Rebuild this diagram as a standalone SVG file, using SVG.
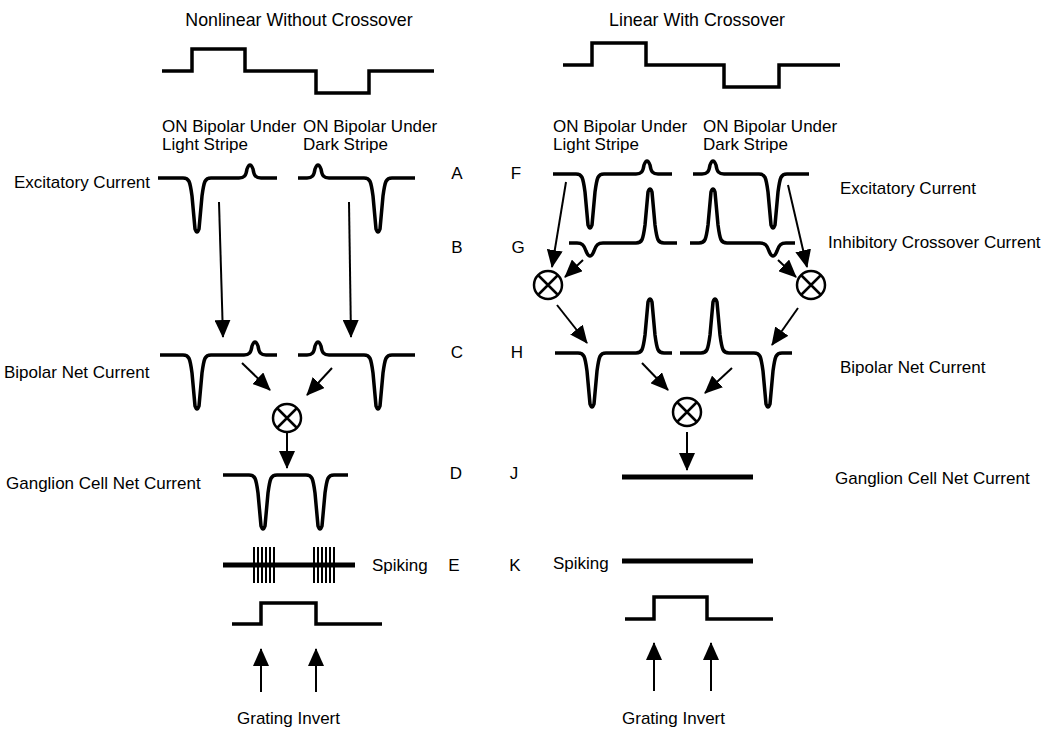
<svg xmlns="http://www.w3.org/2000/svg" width="1050" height="733" viewBox="0 0 1050 733">
<style>
text{font-family:"Liberation Sans",Arial,sans-serif;font-size:17px;fill:#000}
.t{font-size:17.8px}
.w{fill:none;stroke:#000;stroke-width:3.5;stroke-linejoin:round;stroke-linecap:butt}
.st{fill:none;stroke:#000;stroke-width:3.5;stroke-linejoin:miter}
.thick{fill:none;stroke:#000;stroke-width:5}
.a{fill:none;stroke:#000;stroke-width:2;marker-end:url(#ah)}
.c{fill:#fff;stroke:#000;stroke-width:2.5}
.x{stroke:#000;stroke-width:2.5}
.sp{stroke:#000;stroke-width:2}
.m{text-anchor:middle}
</style>
<defs>
<marker id="ah" markerUnits="userSpaceOnUse" viewBox="0 0 18 16" markerWidth="18" markerHeight="16" refX="17" refY="8" orient="auto">
<path d="M0,0 L18,8 L0,16 Z" fill="#000"/>
</marker>
</defs>
<rect width="1050" height="733" fill="#fff"/>

<g id="titles">
<text class="m t" x="299" y="26">Nonlinear Without Crossover</text>
<text class="m t" x="697" y="26">Linear With Crossover</text>
</g>

<g id="stimuli">
<path class="st" d="M162 71 H192 V49 H245 V71 H316 V93 H369 V71 H434"/>
<path class="st" d="M563 65 H592 V43 H646 V65 H724 V87 H779 V65 H840"/>
<path class="st" d="M232 624 H261 V603 H316 V624 H382"/>
<path class="st" d="M625 619 H654 V597 H707 V619 H773"/>
</g>

<g id="labels-left">
<text x="162" y="132">ON Bipolar Under</text>
<text x="162" y="150">Light Stripe</text>
<text x="303" y="132">ON Bipolar Under</text>
<text x="303" y="150">Dark Stripe</text>
<text x="14" y="188">Excitatory Current</text>
<text x="4" y="378">Bipolar Net Current</text>
<text x="6" y="489">Ganglion Cell Net Current</text>
<text x="372" y="571">Spiking</text>
<text x="237" y="724">Grating Invert</text>
</g>

<g id="letters">
<text class="m" x="457" y="179">A</text>
<text class="m" x="457" y="253">B</text>
<text class="m" x="457" y="358">C</text>
<text class="m" x="456" y="479">D</text>
<text class="m" x="454" y="571">E</text>
<text class="m" x="516" y="179">F</text>
<text class="m" x="518" y="253">G</text>
<text class="m" x="517" y="358">H</text>
<text class="m" x="514" y="479">J</text>
<text class="m" x="515" y="571">K</text>
</g>

<g id="labels-right">
<text x="553" y="132">ON Bipolar Under</text>
<text x="553" y="150">Light Stripe</text>
<text x="703" y="132">ON Bipolar Under</text>
<text x="703" y="150">Dark Stripe</text>
<text x="840" y="194">Excitatory Current</text>
<text x="828" y="248">Inhibitory Crossover Current</text>
<text x="840" y="373">Bipolar Net Current</text>
<text x="835" y="484">Ganglion Cell Net Current</text>
<text x="553" y="569">Spiking</text>
<text x="622" y="724">Grating Invert</text>
</g>

<g id="traces-left">
<path class="w" d="M158 178 H183 c6 0,7 3,9 18 l3 33 q2 6,4 0 l3 -33 c2 -15,3 -18,9 -18 H239 c5 0,7 -2,8 -9 q3 -8,6 0 c1 7,3 9,8 9 H277"/>
<path class="w" d="M298 178 H307 c5 0,7 -2,8 -9 q3 -8,6 0 c1 7,3 9,8 9 H364 c6 0,7 3,9 18 l3 33 q2 6,4 0 l3 -33 c2 -15,3 -18,9 -18 H415"/>
<path class="w" d="M160 355 H183 c6 0,7 3,9 18 l3 33 q2 6,4 0 l3 -33 c2 -15,3 -18,9 -18 H244 c5 0,7 -2,8 -9 q3 -8,6 0 c1 7,3 9,8 9 H277"/>
<path class="w" d="M298 355 H307 c5 0,7 -2,8 -9 q3 -8,6 0 c1 7,3 9,8 9 H364 c6 0,7 3,9 18 l3 33 q2 6,4 0 l3 -33 c2 -15,3 -18,9 -18 H415"/>
<path class="w" d="M223 475 H249 c6 0,7 3,9 18 l3 33 q2 6,4 0 l3 -33 c2 -15,3 -18,9 -18 H306 c6 0,7 3,9 18 l3 33 q2 6,4 0 l3 -33 c2 -15,3 -18,9 -18 H348"/>
</g>

<g id="spiking-left">
<path class="thick" d="M223 565 H355"/>
<path class="sp" d="M254 547 V583 M258 547 V583 M262 547 V583 M266 547 V583 M270 547 V583 M274 547 V583 M314 547 V583 M318 547 V583 M322 547 V583 M326 547 V583 M330 547 V583 M334 547 V583"/>
</g>

<g id="traces-right">
<path class="w" d="M553 174 H576 c6 0,7 3,9 18 l3 33 q2 6,4 0 l3 -33 c2 -15,3 -18,9 -18 H636 c5 0,7 -2,8 -9 q3 -8,6 0 c1 7,3 9,8 9 H672"/>
<path class="w" d="M693 174 H702 c5 0,7 -2,8 -9 q3 -8,6 0 c1 7,3 9,8 9 H759 c6 0,7 3,9 18 l3 33 q2 6,4 0 l3 -33 c2 -15,3 -18,9 -18 H809"/>
<path class="w" d="M569 243 H577 c5 0,7 2,9 8 q4 10,8 0 c2 -6,4 -8,9 -8 H636 c6 0,7 -3,9 -18 l3 -33 q2 -6,4 0 l3 33 c2 15,3 18,9 18 H677"/>
<path class="w" d="M690 243 H699 c6 0,7 -3,9 -18 l3 -33 q2 -6,4 0 l3 33 c2 15,3 18,9 18 H760 c5 0,7 2,9 8 q4 10,8 0 c2 -6,4 -8,9 -8 H795"/>
<path class="w" d="M555 353 H578 c6 0,7 3,9 18 l3 33 q2 6,4 0 l3 -33 c2 -15,3 -18,9 -18 H636 c6 0,7 -3,9 -18 l3 -33 q2 -6,4 0 l3 33 c2 15,3 18,9 18 H672"/>
<path class="w" d="M680 353 H701 c6 0,7 -3,9 -18 l3 -33 q2 -6,4 0 l3 33 c2 15,3 18,9 18 H754 c6 0,7 3,9 18 l3 33 q2 6,4 0 l3 -33 c2 -15,3 -18,9 -18 H792"/>
<path class="thick" d="M622 477 H753"/>
<path class="thick" d="M622 561 H753"/>
</g>

<g id="connectors">
<path class="a" d="M219 202 L223 337"/>
<path class="a" d="M349 202 L351 337"/>
<path class="a" d="M242 363 L270 390"/>
<path class="a" d="M332 368 L307 395"/>
<path class="a" d="M287 433 L287 468"/>
<path class="a" d="M261 692 L261 649"/>
<path class="a" d="M316 692 L316 649"/>
<path class="a" d="M566 182 L552 267"/>
<path class="a" d="M583 260 L565 277"/>
<path class="a" d="M788 185 L807 267"/>
<path class="a" d="M778 260 L796 277"/>
<path class="a" d="M557 305 L587 343"/>
<path class="a" d="M798 308 L772 345"/>
<path class="a" d="M642 363 L668 390"/>
<path class="a" d="M732 368 L705 393"/>
<path class="a" d="M687 432 L687 470"/>
<path class="a" d="M654 691 L654 643"/>
<path class="a" d="M711 691 L711 643"/>
</g>

<g id="mult-left">
<circle class="c" cx="287" cy="418" r="14"/>
<path class="x" d="M277 408 L297 428 M297 408 L277 428"/>
</g>
<g id="mult-right-1">
<circle class="c" cx="548" cy="285" r="14"/>
<path class="x" d="M538 275 L558 295 M558 275 L538 295"/>
</g>
<g id="mult-right-2">
<circle class="c" cx="811" cy="285" r="14"/>
<path class="x" d="M801 275 L821 295 M821 275 L801 295"/>
</g>
<g id="mult-right-3">
<circle class="c" cx="687" cy="412" r="14"/>
<path class="x" d="M677 402 L697 422 M697 402 L677 422"/>
</g>
</svg>
